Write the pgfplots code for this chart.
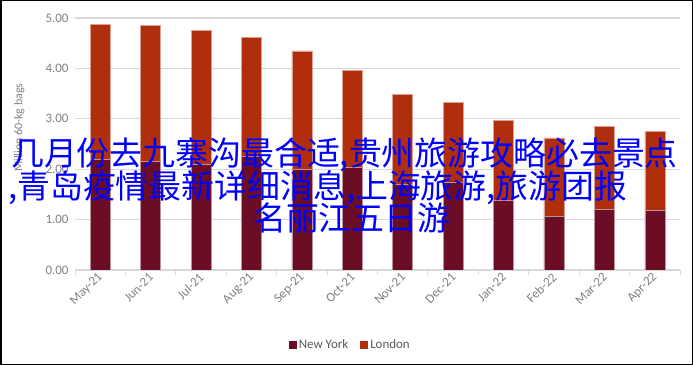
\documentclass[border=0pt]{standalone}
\usepackage{pgfplots}
\pgfplotsset{compat=1.18}
\usepackage{fontspec}
\setmainfont{Carlito}
\newfontfamily\cjk{Noto Sans CJK SC}
\definecolor{nyc}{HTML}{6B0D24}
\definecolor{ldn}{HTML}{B02E0C}
\definecolor{gridc}{HTML}{D9D9D9}
\definecolor{tickc}{HTML}{808080}
\definecolor{legc}{HTML}{595959}
\definecolor{overlay}{HTML}{0000FF}

% Certified stocks, million 60-kg bags
\pgfplotstableread{
idx ny   ldn
0   2.20 2.68
1   2.15 2.70
2   2.10 2.65
3   2.25 2.36
4   2.00 2.35
5   2.03 1.93
6   1.70 1.79
7   1.75 1.57
8   1.39 1.58
9   1.07 1.55
10  1.21 1.64
11  1.18 1.57
}\stocks

\begin{document}
\begin{tikzpicture}
\useasboundingbox (0bp,0bp) rectangle (693bp,365bp);
\begin{axis}[
  at={(75bp,95bp)}, anchor=south west,
  scale only axis, width=605bp, height=252bp,
  ybar stacked, bar width=20bp,
  xmin=-0.5, xmax=11.5, ymin=0, ymax=5,
  axis x line*=bottom, axis y line*=left,
  x axis line style={draw=gridc, line width=1bp},
  y axis line style={draw=none},
  xtick={0,...,11},
  xticklabels={May-21,Jun-21,Jul-21,Aug-21,Sep-21,Oct-21,Nov-21,Dec-21,Jan-22,Feb-22,Mar-22,Apr-22},
  minor xtick={-0.5,0.5,...,11.5},
  major tick length=0pt, minor tick length=5bp, tick align=outside,
  minor x tick style={draw=gridc, line width=1bp},
  ytick={0,1,...,5},
  ymajorgrids, grid style={draw=gridc, line width=1.3bp},
  /pgf/number format/assume math mode=true,
  yticklabel={\pgfmathprintnumber[fixed,fixed zerofill,precision=2]{\tick}},
  yticklabel style={text=tickc, font=\fontsize{13}{13}\selectfont, xshift=-3bp},
  xticklabel style={text=tickc, font=\fontsize{13}{13}\selectfont, rotate=45, anchor=east, yshift=-4bp},
  ylabel={Million 60-kg bags},
  ylabel style={text=tickc, font=\fontsize{12}{12}\selectfont, at={(axis description cs:-0.092,0.565)}, anchor=center},
  legend style={at={(axis description cs:0.455,-0.298)}, anchor=center, draw=none, fill=none,
    legend columns=2, font=\fontsize{13}{13}\selectfont, text=legc,
    /tikz/every even column/.append style={column sep=10bp}},
  legend image code/.code={\fill[#1, draw=none] (0bp,-3.5bp) rectangle (8bp,4.5bp);},
]
\addplot[fill=nyc, draw=white!55!nyc, line width=0.5bp] table[x=idx, y=ny] {\stocks};
\addplot[fill=ldn, draw=white!55!ldn, line width=0.5bp] table[x=idx, y=ldn] {\stocks};
\legend{New York, London}
\end{axis}
\draw[black, line width=1.5bp] (0.75bp,0.75bp) rectangle (692.25bp,364.25bp);
\begin{scope}[every node/.style={inner sep=0pt, text=overlay, font=\cjk\fontsize{33}{33}\selectfont}]
\node[anchor=base west] at (11bp,199bp) {几月份去九寨沟最合适,贵州旅游攻略必去景点};
\node[anchor=base west] at (8bp,166.5bp) {,青岛疫情最新详细消息,上海旅游,旅游团报};
\node[anchor=base west] at (253bp,134.5bp) {名丽江五日游};
\end{scope}
\end{tikzpicture}
\end{document}
